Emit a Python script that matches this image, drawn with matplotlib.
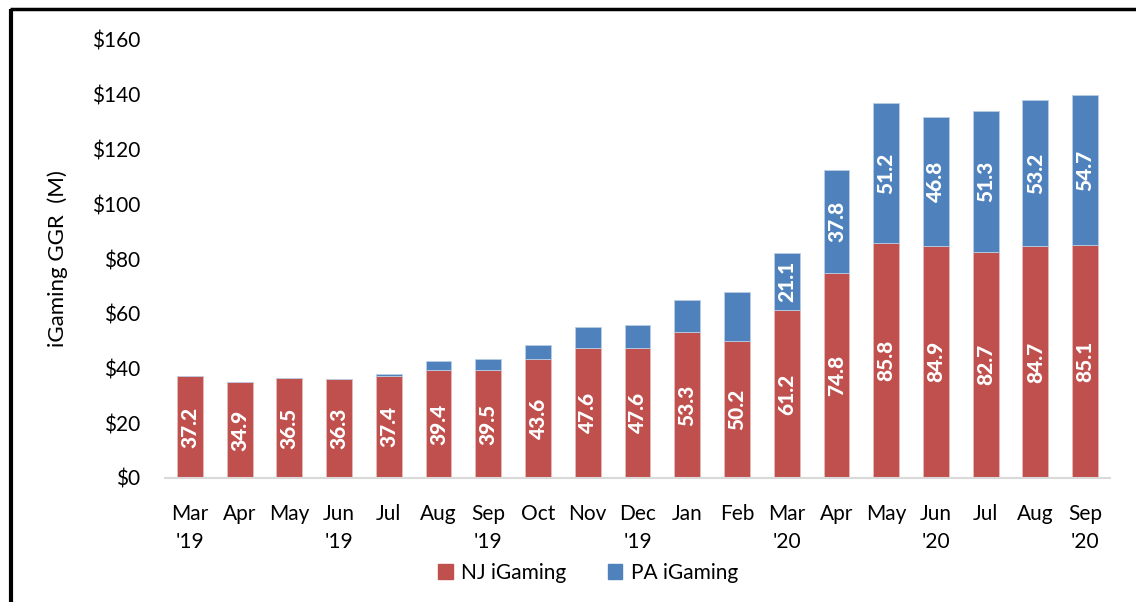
import numpy as np
import matplotlib.pyplot as plt
from matplotlib.lines import Line2D
from matplotlib.patches import Patch

months = ["Mar\n'19", "Apr", "May", "Jun\n'19", "Jul", "Aug", "Sep\n'19", "Oct", "Nov",
          "Dec\n'19", "Jan", "Feb", "Mar\n'20", "Apr", "May", "Jun\n'20", "Jul", "Aug", "Sep\n'20"]
nj = [37.2, 34.9, 36.5, 36.3, 37.4, 39.4, 39.5, 43.6, 47.6, 47.6, 53.3, 50.2,
      61.2, 74.8, 85.8, 84.9, 82.7, 84.7, 85.1]
pa = [0, 0, 0, 0, 0.7, 3.4, 3.9, 5.0, 7.7, 8.2, 11.8, 17.8,
      21.1, 37.8, 51.2, 46.8, 51.3, 53.2, 54.7]
pa_labelled = [False] * 12 + [True] * 7
yticks = [0, 20, 40, 60, 80, 100, 120, 140, 160]

red = '#C0504D'
blue = '#4F81BD'

plt.rcParams['font.family'] = ['Lato', 'DejaVu Sans']

fig = plt.figure(figsize=(11.36, 6.02), dpi=100)
ax = fig.add_axes([165 / 1136, 124 / 602, 945 / 1136, 438 / 602])

x = np.arange(len(months))
w = 0.52
ax.bar(x, nj, w, color=red, edgecolor='#E6B9B8', linewidth=0.6)
ax.bar(x, pa, w, bottom=nj, color=blue, edgecolor='#B9CDE5', linewidth=0.6)

for i in range(len(x)):
    ax.text(x[i], nj[i] / 2, f"{nj[i]:.1f}", rotation=90, ha='center', va='center',
            color='white', fontsize=15, fontweight='black')
    if pa_labelled[i]:
        ax.text(x[i], nj[i] + pa[i] / 2, f"{pa[i]:.1f}", rotation=90, ha='center',
                va='center', color='white', fontsize=15, fontweight='black')

ax.set_xlim(-0.5, len(months) - 0.5)
ax.set_ylim(0, 160)
ax.set_yticks(yticks)
ax.set_yticklabels([f"${v}" for v in yticks])
ax.set_xticks(x)
ax.set_xticklabels(months, linespacing=1.45)
ax.tick_params(axis='y', length=0, pad=18, labelsize=15)
ax.tick_params(axis='x', length=0, pad=19, labelsize=15)
for s in ['top', 'right', 'left']:
    ax.spines[s].set_visible(False)
ax.spines['bottom'].set_color('#D9D9D9')
ax.spines['bottom'].set_linewidth(1.5)

fig.text(58 / 1136, 1 - 259 / 602, "iGaming GGR  (M)", rotation=90, ha='center',
         va='center', fontsize=16)

handles = [Patch(color=red), Patch(color=blue)]
fig.legend(handles, ['NJ iGaming', 'PA iGaming'], loc='center',
           bbox_to_anchor=(588 / 1136, 1 - 573 / 602), ncol=2, frameon=False,
           fontsize=15, handlelength=0.7, handleheight=0.7, columnspacing=2.0,
           handletextpad=0.4)

# border of the original screenshot (top and left only)
fig.add_artist(Line2D([11 / 1136, 11 / 1136], [0, 1 - 9 / 602], color='black', lw=3,
                      transform=fig.transFigure, solid_capstyle='butt'))
fig.add_artist(Line2D([9.5 / 1136, 1], [1 - 9 / 602, 1 - 9 / 602], color='black', lw=2.5,
                      transform=fig.transFigure, solid_capstyle='butt'))

fig.savefig('out.png', dpi=100)
